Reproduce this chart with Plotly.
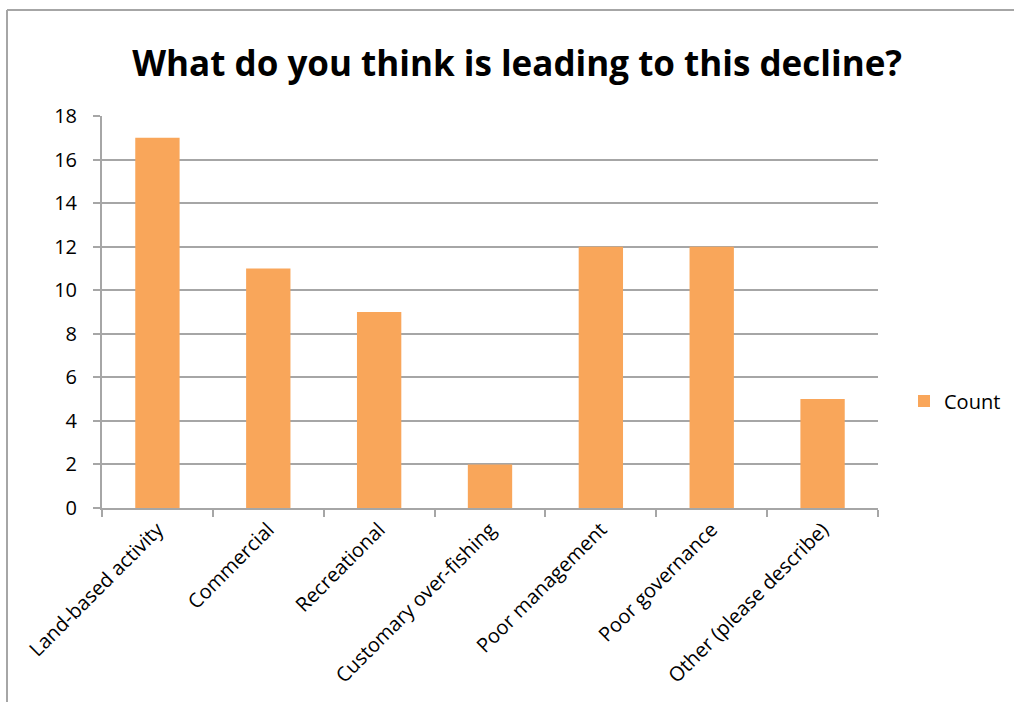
import plotly.graph_objects as go

categories = ["Land-based activity", "Commercial", "Recreational", "Customary over-fishing",
              "Poor management", "Poor governance", "Other (please describe)"]
counts = [17, 11, 9, 2, 12, 12, 5]
y_ticks = [0, 2, 4, 6, 8, 10, 12, 14, 16, 18]

FONT = "Open Sans"
GRID = "#A6A6A6"

fig = go.Figure()
fig.add_trace(go.Bar(x=categories, y=counts, name="Count", marker_color="#F9A65A",
                     marker_line_width=0, showlegend=True))

L, R, T, B = 102, 136, 116, 194
W, H = 1014, 702
pw, ph = W - L - R, H - T - B

fig.update_layout(
    width=W, height=H,
    margin=dict(l=L, r=R, t=T, b=B, autoexpand=False),
    paper_bgcolor="white", plot_bgcolor="white",
    bargap=0.6,
    title=dict(text="<b>What do you think is leading to this decline?</b>",
               x=0.51, xanchor="center", y=1 - 64 / H, yanchor="middle",
               font=dict(family=FONT, size=35, color="black")),
    font=dict(family=FONT, size=20, color="black"),
    showlegend=True,
    legend=dict(x=(904 - L) / pw, xanchor="left", y=(508 - 401) / ph, yanchor="middle",
                font=dict(size=20), itemwidth=30, bgcolor="rgba(0,0,0,0)"),
    xaxis=dict(tickangle=-45, showline=True, linecolor=GRID, linewidth=2,
               ticks="outside", tickson="boundaries", ticklen=7, tickcolor=GRID, tickwidth=2,
               showgrid=False, tickfont=dict(size=20), automargin=False),
    yaxis=dict(range=[0, 18], tickvals=y_ticks, showline=True, linecolor=GRID, linewidth=2,
               ticks="outside", ticklen=7, tickcolor=GRID, tickwidth=2,
               showgrid=True, gridcolor=GRID, gridwidth=1.5, zeroline=False,
               tickfont=dict(size=20), ticklabelstandoff=12, automargin=False),
)

# outer chart-area frame (top and left edges visible)
fig.add_shape(type="line", xref="paper", yref="paper",
              x0=(7 - L) / pw, x1=(W + 5 - L) / pw, y0=1 + (T - 10) / ph, y1=1 + (T - 10) / ph,
              line=dict(color="#A6A6A6", width=2))
fig.add_shape(type="line", xref="paper", yref="paper",
              x0=(7 - L) / pw, x1=(7 - L) / pw, y0=1 + (T - 10) / ph, y1=-(B + 5) / ph,
              line=dict(color="#A6A6A6", width=2))

fig.write_html("out.html", config={"displayModeBar": False},
               post_script="document.body.style.margin='0';")
